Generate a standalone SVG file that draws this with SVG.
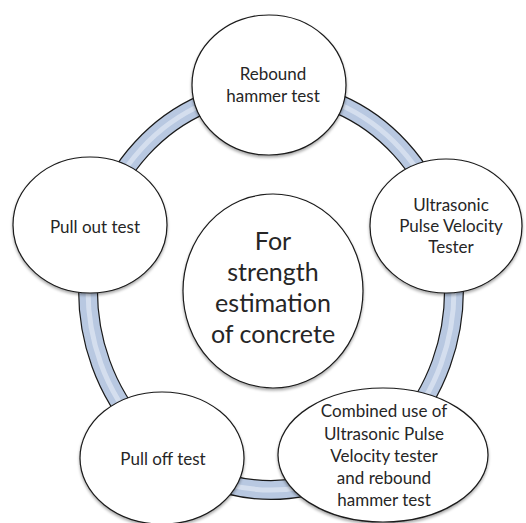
<svg xmlns="http://www.w3.org/2000/svg" width="526" height="523" viewBox="0 0 526 523">
<defs>
<filter id="sh" x="-10%" y="-10%" width="120%" height="125%">
<feGaussianBlur in="SourceAlpha" stdDeviation="1.5"/>
<feOffset dx="0" dy="2" result="b"/>
<feComponentTransfer><feFuncA type="linear" slope="0.35"/></feComponentTransfer>
<feMerge><feMergeNode/><feMergeNode in="SourceGraphic"/></feMerge>
</filter>
<style>
.node{fill:#fff;stroke:#1a1a1a;stroke-width:1.2;filter:url(#sh)}
.t{font-family:Lato,"Open Sans",sans-serif;fill:#262626;text-anchor:middle}
.s{font-size:17px}
.b{font-size:25px}
</style>
</defs>
<rect width="526" height="523" fill="#fff"/>
<g id="connectors" fill="none">
<ellipse cx="271" cy="290" rx="183" ry="200" stroke="#1a1a1a" stroke-width="20"/>
<ellipse cx="271" cy="290" rx="183" ry="200" stroke="#b8c8e1" stroke-width="17.6"/>
<ellipse cx="271" cy="290" rx="183" ry="200" stroke="#dbe4f1" stroke-width="5" opacity="0.8"/>
</g>
<g id="center">
<ellipse class="node" cx="273" cy="291" rx="90" ry="97"/>
<text class="t b" x="273" y="250">For</text>
<text class="t b" x="273" y="281">strength</text>
<text class="t b" x="273" y="312">estimation</text>
<text class="t b" x="273" y="343">of concrete</text>
</g>
<g id="rebound">
<ellipse class="node" cx="269" cy="85" rx="77" ry="70"/>
<text class="t s" x="273" y="80">Rebound</text>
<text class="t s" x="273" y="102">hammer test</text>
</g>
<g id="upv">
<ellipse class="node" cx="446" cy="226" rx="76" ry="67"/>
<text class="t s" x="451" y="211">Ultrasonic</text>
<text class="t s" x="451" y="232">Pulse Velocity</text>
<text class="t s" x="451" y="253">Tester</text>
</g>
<g id="pullout">
<ellipse class="node" cx="90" cy="225" rx="77" ry="68"/>
<text class="t s" x="95" y="233">Pull out test</text>
</g>
<g id="pulloff">
<ellipse class="node" cx="162" cy="458" rx="82" ry="66"/>
<text class="t s" x="163" y="465">Pull off test</text>
</g>
<g id="combined">
<ellipse class="node" cx="383" cy="455" rx="105" ry="67"/>
<text class="t s" x="384" y="417">Combined use of</text>
<text class="t s" x="384" y="440">Ultrasonic Pulse</text>
<text class="t s" x="384" y="462">Velocity tester</text>
<text class="t s" x="384" y="484">and rebound</text>
<text class="t s" x="384" y="506">hammer test</text>
</g>
</svg>
